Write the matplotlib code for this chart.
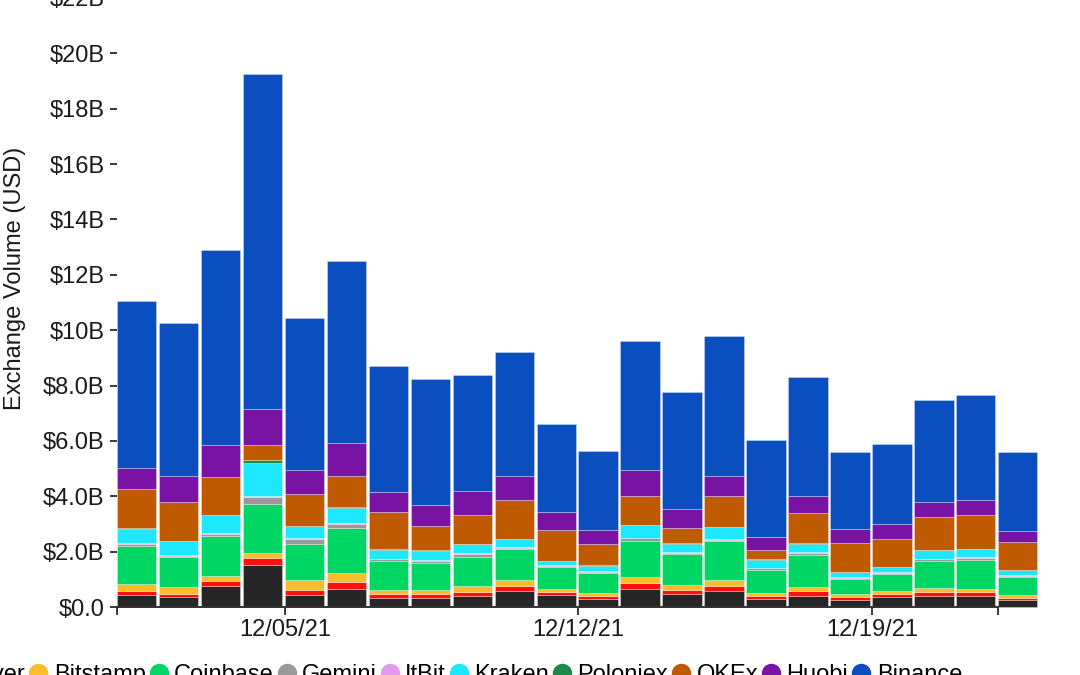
import numpy as np
import matplotlib
matplotlib.use('Agg')
import matplotlib.pyplot as plt
from matplotlib.lines import Line2D

plt.rcParams['font.family'] = ['Liberation Sans', 'DejaVu Sans']

# one bar per day, 12/01/21 .. 12/22/21, values in $B
days = list(range(22))
tick_pos = [0, 4, 11, 18, 21]
tick_labels = ['', '12/05/21', '12/12/21', '12/19/21', '']

exchanges = ['Bitfinex', 'bitFlyer', 'Bitstamp', 'Coinbase', 'Gemini', 'ItBit',
             'Kraken', 'Poloniex', 'OKEx', 'Huobi', 'Binance']
colors = ['#262626', '#ff1010', '#fbbd2a', '#00d663', '#9a9a9a', '#e49bef',
          '#1ee8ff', '#1d8a4a', '#bf5a00', '#7913a3', '#0b4ec0']

bitfinex = [0.42, 0.35, 0.77, 1.53, 0.43, 0.65, 0.32, 0.31, 0.39, 0.59, 0.42,
            0.29, 0.65, 0.47, 0.57, 0.28, 0.41, 0.26, 0.36, 0.41, 0.40, 0.25]
bitflyer = [0.16, 0.12, 0.16, 0.25, 0.17, 0.24, 0.16, 0.16, 0.16, 0.18, 0.13,
            0.12, 0.20, 0.16, 0.19, 0.12, 0.17, 0.10, 0.12, 0.14, 0.14, 0.09]
bitstamp = [0.25, 0.24, 0.18, 0.18, 0.36, 0.35, 0.15, 0.14, 0.22, 0.22, 0.11,
            0.11, 0.25, 0.16, 0.23, 0.12, 0.15, 0.10, 0.09, 0.12, 0.12, 0.11]
coinbase = [1.37, 1.08, 1.45, 1.75, 1.33, 1.61, 1.02, 0.99, 1.05, 1.09, 0.77,
            0.71, 1.29, 1.11, 1.38, 0.83, 1.16, 0.55, 0.62, 1.00, 1.05, 0.63]
gemini = [0.08, 0.06, 0.09, 0.27, 0.16, 0.16, 0.07, 0.07, 0.09, 0.06, 0.05,
          0.04, 0.09, 0.06, 0.06, 0.05, 0.06, 0.04, 0.04, 0.05, 0.05, 0.04]
itbit = [0.03, 0.03, 0.03, 0.04, 0.03, 0.03, 0.03, 0.03, 0.03, 0.03, 0.02,
         0.02, 0.03, 0.03, 0.03, 0.02, 0.03, 0.02, 0.02, 0.03, 0.03, 0.02]
kraken = [0.51, 0.50, 0.63, 1.19, 0.44, 0.55, 0.32, 0.33, 0.33, 0.28, 0.15,
          0.19, 0.44, 0.30, 0.42, 0.28, 0.31, 0.19, 0.18, 0.30, 0.29, 0.18]
poloniex = [0.02, 0.02, 0.02, 0.11, 0.02, 0.02, 0.02, 0.02, 0.02, 0.02, 0.02,
            0.02, 0.02, 0.02, 0.02, 0.02, 0.02, 0.02, 0.02, 0.02, 0.02, 0.02]
okex = [1.43, 1.39, 1.36, 0.55, 1.16, 1.11, 1.33, 0.89, 1.04, 1.38, 1.12,
        0.76, 1.04, 0.55, 1.11, 0.35, 1.10, 1.03, 1.02, 1.18, 1.22, 1.01]
huobi = [0.75, 0.94, 1.16, 1.30, 0.86, 1.20, 0.74, 0.75, 0.85, 0.88, 0.64,
         0.51, 0.95, 0.69, 0.74, 0.45, 0.61, 0.52, 0.52, 0.55, 0.55, 0.39]
binance = [6.02, 5.52, 7.04, 12.07, 5.47, 6.57, 4.54, 4.54, 4.20, 4.48, 3.18,
           2.87, 4.64, 4.21, 5.03, 3.51, 4.28, 2.77, 2.89, 3.67, 3.78, 2.86]

series = [bitfinex, bitflyer, bitstamp, coinbase, gemini, itbit,
          kraken, poloniex, okex, huobi, binance]

fig = plt.figure(figsize=(10.8, 6.75), dpi=100)
ax = fig.add_axes([117 / 1080, 68 / 675, 881 / 1080, 609 / 675])

bottom = np.zeros(len(days))
for vals, c in zip(series, colors):
     ax.bar(days, vals, width=0.94, bottom=bottom, align='edge', color=c,
            edgecolor=(1, 1, 1, 0.35), linewidth=0.6, clip_on=False)
     bottom += np.array(vals)

ax.set_xlim(0, 21)
ax.set_ylim(0, 22)
ax.set_xticks(tick_pos)
ax.set_xticklabels(tick_labels)
yt = list(range(0, 23, 2))
ax.set_yticks(yt)
ax.set_yticklabels(['$0.0'] + [f'${v}.0B' if v < 10 else f'${v}B' for v in yt[1:]])

for s in ['top', 'right', 'left']:
     ax.spines[s].set_visible(False)
ax.spines['bottom'].set_color('#333333')
ax.spines['bottom'].set_linewidth(1.4)
ax.tick_params(axis='both', labelsize=17, colors='#1a1a1a', length=6, width=1.2, pad=3)
ax.tick_params(axis='y', length=5, pad=4)

ax.set_ylabel('Exchange Volume (USD)', fontsize=17, color='#1a1a1a')
ax.yaxis.set_label_coords(-0.103, 0.54)

handles = [Line2D([], [], marker='o', linestyle='', markersize=13, color=c) for c in colors]
fig.legend(handles, exchanges, loc='center right', bbox_to_anchor=(962 / 1080, 0),
           ncol=len(exchanges), frameon=False, fontsize=17, borderpad=0,
           handlelength=0.6, handletextpad=0.35, columnspacing=0.25, borderaxespad=0)

fig.savefig('out.png', dpi=100)
